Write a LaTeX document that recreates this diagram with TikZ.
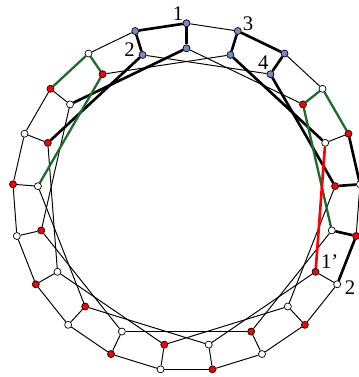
\documentclass[tikz,border=0pt]{standalone}
\usepackage{fontspec}
\setmainfont{Liberation Serif}
\usetikzlibrary{backgrounds}
\definecolor{slateblue}{RGB}{118,138,196}
\definecolor{pathgreen}{RGB}{28,108,42}

\begin{document}
\begin{tikzpicture}[x=0.02cm,y=0.02cm,line cap=round,line join=round,
vtx/.style={circle,draw=black,line width=.4pt,inner sep=0pt,minimum size=4pt},
edge/.style={line width=.55pt},
heavy/.style={line width=1.5pt},
lbl/.style={font=\fontsize{11.8}{14}\selectfont,inner sep=0pt}]
\useasboundingbox (-186.5,-179.7) rectangle (171.5,197.3);
\foreach \i/\f/\g in {0/slateblue/slateblue,1/slateblue/slateblue,2/slateblue/slateblue,3/white/red,4/red/white,5/white/red,6/red/white,7/white/red,8/red/white,9/white/red,10/red/white,11/white/red,12/red/white,13/white/red,14/red/white,15/white/red,16/red/white,17/white/red,18/red/white,19/white/red,20/slateblue/slateblue}{
  \node[vtx,fill=\f] (o\i) at ({90-\i*360/21}:174) {};
  \node[vtx,fill=\g] (m\i) at ({90-\i*360/21}:149) {};}
\begin{scope}[on background layer]
\foreach \i in {0,...,20}{
  \pgfmathtruncatemacro\j{mod(\i+1,21)}
  \pgfmathtruncatemacro\k{mod(\i+3,21)}
  \draw[edge] (o\i)--(o\j);
  \draw[edge] (o\i)--(m\i);
  \draw[edge] (m\i)--(m\k);}
\foreach \x/\y in {o20/o0,o0/m0,m0/m18,o20/m20,m20/m17,o1/o2,o1/m1,m1/m4,o2/m2,m2/m5,m5/o5,o4/o5,m6/o6,o6/o7}{\draw[heavy] (\x)--(\y);}
\foreach \x/\y in {o18/o19,o19/m19,m19/m16,o4/o3,o3/m3,m3/m6}{\draw[pathgreen,line width=1.3pt] (\x)--(\y);}
\draw[heavy,red] (m4)--(m7);
\end{scope}
\node[lbl] (t1) at (-8.5,183.3) {1};
\node[lbl] (t2) at (-57,147.3) {2};
\node[lbl] (t3) at (61.5,174) {3};
\node[lbl] (t4) at (76.8,134.8) {4};
\node[lbl] (t5) at (143.2,-64) {1’};
\node[lbl] (t6) at (163.5,-90.2) {2};
\end{tikzpicture}
\end{document}
